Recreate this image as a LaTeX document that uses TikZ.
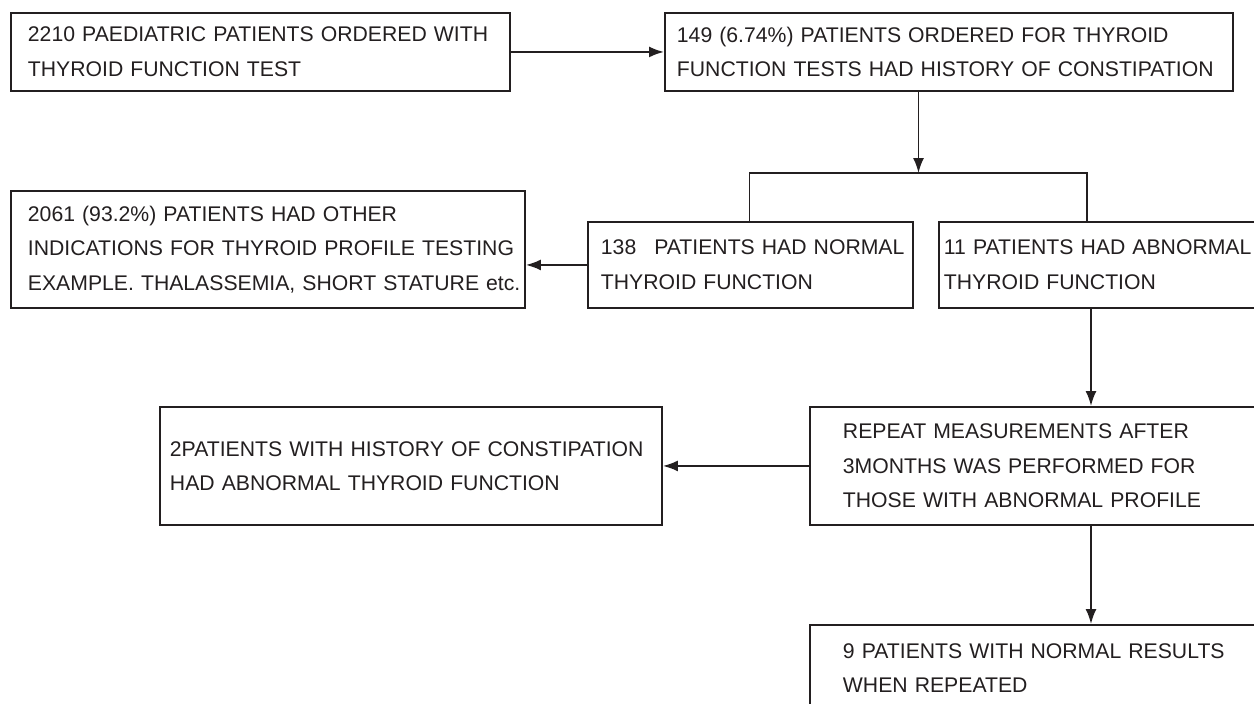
\documentclass[tikz,border=0pt]{standalone}
\usepackage{fontspec}
\setmainfont{Liberation Sans}
\usetikzlibrary{arrows.meta}
\definecolor{ink}{HTML}{231F20}
\newcommand{\tline}[1]{\mbox{#1}}
\tikzset{
  boxnode/.style={draw=ink, text=ink, line width=1.9pt, anchor=north west,
    align=left, inner ysep=0pt,
    font=\fontsize{21.2pt}{34.5pt}\selectfont},
  conn/.style={draw=ink, line width=1.9pt},
  arr/.style={conn, -{Latex[length=15pt,width=11pt]}}
}
\begin{document}
\begin{tikzpicture}[x=1pt,y=-1pt]
\useasboundingbox (0,0) rectangle (1254,704);
\clip (0,0) rectangle (1254,704);
\fill[white] (0,0) rectangle (1254,704);
% boxes: W = text width + 2*pad
\node[boxnode, inner xsep=17pt, text width=465pt, minimum height=78pt] (A) at (10,12)
  {\tline{2210 PAEDIATRIC PATIENTS ORDERED WITH}\\\tline{THYROID FUNCTION TEST}};
\node[boxnode, inner xsep=12pt, text width=544pt, minimum height=78pt] (B) at (664,12)
  {\tline{149 (6.74\%) PATIENTS ORDERED FOR THYROID}\\\tline{FUNCTION TESTS HAD HISTORY OF CONSTIPATION}};
\node[boxnode, inner xsep=17pt, text width=480pt, minimum height=117pt] (C) at (10,190)
  {\tline{2061 (93.2\%) PATIENTS HAD OTHER}\\\tline{INDICATIONS FOR THYROID PROFILE TESTING}\\\tline{EXAMPLE. THALASSEMIA, SHORT STATURE etc.}};
\node[boxnode, inner xsep=13pt, text width=299pt, minimum height=86pt] (D) at (587,221)
  {\tline{138\hspace{18pt}PATIENTS HAD NORMAL}\\\tline{THYROID FUNCTION}};
\node[boxnode, inner xsep=5pt, text width=314pt, minimum height=86pt] (E) at (938,221)
  {\tline{11 PATIENTS HAD ABNORMAL}\\\tline{THYROID FUNCTION}};
\node[boxnode, inner xsep=33pt, text width=387pt, minimum height=118pt] (F) at (809,406)
  {\tline{REPEAT MEASUREMENTS AFTER}\\\tline{3MONTHS WAS PERFORMED FOR}\\\tline{THOSE WITH ABNORMAL PROFILE}};
\node[boxnode, inner xsep=10pt, text width=482pt, minimum height=118pt] (G) at (159,406)
  {\tline{2PATIENTS WITH HISTORY OF CONSTIPATION}\\\tline{HAD ABNORMAL THYROID FUNCTION}};
\node[boxnode, inner xsep=33pt, text width=387pt, minimum height=86pt] (H) at (809,624)
  {\tline{9 PATIENTS WITH NORMAL RESULTS}\\\tline{WHEN REPEATED}};
% connectors
\coordinate (j) at (918.5,173);
\coordinate (jl) at (749.5,173);
\coordinate (jr) at (1087,173);
\coordinate (k) at (1091,0);
\draw[arr] (A.east) -- (A.east -| B.west);
\draw[arr] (B.south -| j) -- (j);
\draw[conn] (D.north -| jl) -- (jl) -- (jr) -- (E.north -| jr);
\draw[arr] (D.west) -- (D.west -| C.east);
\draw[arr] (E.south -| k) -- (F.north -| k);
\draw[arr] (F.west) -- (F.west -| G.east);
\draw[arr] (F.south -| k) -- (H.north -| k);
\end{tikzpicture}
\end{document}
